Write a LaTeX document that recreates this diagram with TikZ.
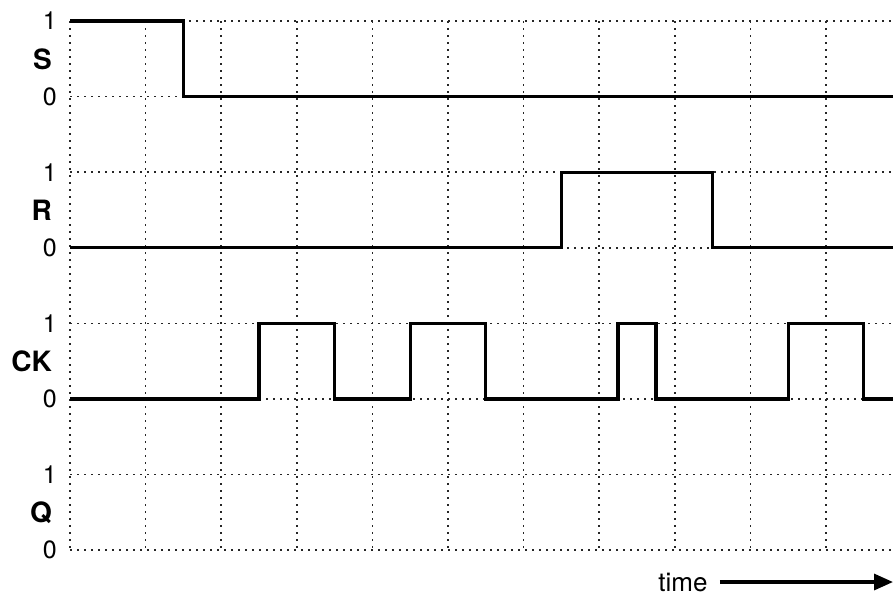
\documentclass[tikz,border=0pt]{standalone}
\usepackage{fontspec}
\setmainfont{TeX Gyre Heros}
\usetikzlibrary{arrows.meta}
\begin{document}
\begin{tikzpicture}[x=1pt,y=-1pt,
 gridline/.style={line width=1.5pt, dash pattern=on 1.5pt off 5.5pt, black!85},
 sig/.style={line width=3.3pt, line join=miter, line cap=butt},
 num/.style={anchor=east, inner sep=0pt, font=\fontsize{25}{25}\selectfont},
 lab/.style={anchor=east, inner sep=0pt, font=\fontsize{28}{28}\selectfont\bfseries},
 timearrow/.style={line width=3.3pt, -{Triangle[length=19pt,width=16pt]}}]
\useasboundingbox (0,0) rectangle (893,597);
% grid
\foreach \y in {21,96.6,172.2,247.8,323.4,399,474.6,550.2}
  \draw[gridline] (70,\y) -- (893,\y);
\foreach \x in {70,145.6,221.2,296.8,372.4,448,523.6,599.2,674.8,750.4,826}
  \draw[gridline] (\x,21) -- (\x,550.2);
% labels
\node[num] (s1) at (57,21) {1};
\node[lab] (S) at (52,58.8) {S};
\node[num] (s0) at (57,96.6) {0};
\node[num] (r1) at (57,172.2) {1};
\node[lab] (R) at (52,210) {R};
\node[num] (r0) at (57,247.8) {0};
\node[num] (c1) at (57,323.4) {1};
\node[lab] (CK) at (52,361.2) {CK};
\node[num] (c0) at (57,399) {0};
\node[num] (q1) at (57,474.6) {1};
\node[lab] (Q) at (52,512.4) {Q};
\node[num] (q0) at (57,550.2) {0};
% signals
\draw[sig] (70,21) -- (183.4,21) -- (183.4,96.6) -- (893,96.6);
\draw[sig] (70,247.8) -- (561.4,247.8) -- (561.4,172.2) -- (712.6,172.2) -- (712.6,247.8) -- (893,247.8);
\draw[sig] (70,399) -- (259,399) -- (259,323.4) -- (334.6,323.4) -- (334.6,399)
  -- (410.2,399) -- (410.2,323.4) -- (485.8,323.4) -- (485.8,399)
  -- (618.1,399) -- (618.1,323.4) -- (655.9,323.4) -- (655.9,399)
  -- (788.2,399) -- (788.2,323.4) -- (863.8,323.4) -- (863.8,399) -- (893,399);
% time arrow
\node[inner sep=0pt, font=\fontsize{26}{26}\selectfont] (time) at (683,582) {time};
\coordinate (tend) at (893,582);
\draw[timearrow] ([xshift=12pt]time.east) -- (tend);
\end{tikzpicture}
\end{document}
